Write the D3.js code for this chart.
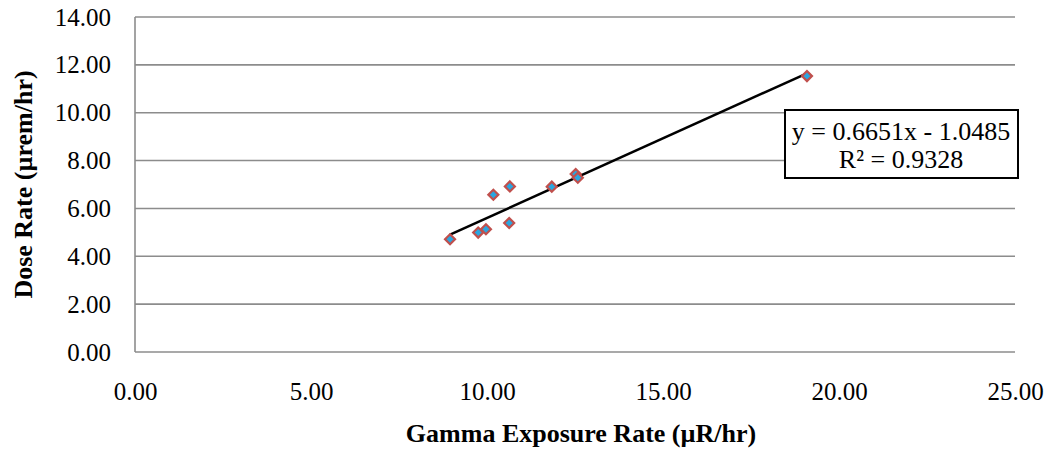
<!DOCTYPE html>
<html>
<head>
<meta charset="utf-8">
<script src="https://cdn.jsdelivr.net/npm/d3@7"></script>
<style>
  body { margin: 0; background: #fff; }
  svg { display: block; font-family: "Liberation Serif", "Times New Roman", serif; }
</style>
</head>
<body>
<div id="chart"></div>
<script>
// Gamma exposure rate (µR/hr) vs dose rate (µrem/hr)
const gammaRate = [8.95, 9.75, 9.97, 10.18, 10.65, 10.63, 11.84, 12.52, 12.58, 19.09];
const doseRate  = [4.71, 4.99, 5.13, 6.57, 6.92, 5.39, 6.91, 7.44, 7.28, 11.53];
const xTicks = [0, 5, 10, 15, 20, 25];
const yTicks = [0, 2, 4, 6, 8, 10, 12, 14];
const slope = 0.6651, intercept = -1.0485;
const eqLines = ["y = 0.6651x - 1.0485", "R² = 0.9328"];

const W = 1047, H = 458;
const margin = { top: 17, right: 32, bottom: 106, left: 135 };
const width = W - margin.left - margin.right;
const height = H - margin.top - margin.bottom;

const svg = d3.select("#chart").append("svg")
    .attr("width", W).attr("height", H);
const g = svg.append("g")
    .attr("transform", `translate(${margin.left},${margin.top})`);

const x = d3.scaleLinear().domain([0, 25]).range([0, width]);
const y = d3.scaleLinear().domain([0, 14]).range([height, 0]);

// gridlines
g.append("g").selectAll("line").data(yTicks).join("line")
    .attr("x1", 0).attr("x2", width)
    .attr("y1", d => y(d)).attr("y2", d => y(d))
    .attr("stroke", "#8c8c8c").attr("stroke-width", 1.6);

// left axis line
g.append("line")
    .attr("x1", 0).attr("x2", 0).attr("y1", 0).attr("y2", height)
    .attr("stroke", "#8c8c8c").attr("stroke-width", 1.6);

// tick labels
const yAxis = d3.axisLeft(y).tickValues(yTicks).tickFormat(d3.format(".2f")).tickSize(0).tickPadding(24);
const ya = g.append("g").call(yAxis);
ya.select(".domain").remove();
ya.selectAll("text").attr("font-size", 25).attr("font-family", "Liberation Serif").attr("fill", "#000");

const xAxis = d3.axisBottom(x).tickValues(xTicks).tickFormat(d3.format(".2f")).tickSize(0).tickPadding(30);
const xa = g.append("g").attr("transform", `translate(0,${height})`).call(xAxis);
xa.select(".domain").remove();
xa.selectAll("text").attr("font-size", 25).attr("font-family", "Liberation Serif").attr("fill", "#000");

// trendline
const xMin = d3.min(gammaRate), xMax = d3.max(gammaRate);
g.append("line")
    .attr("x1", x(xMin)).attr("y1", y(slope * xMin + intercept))
    .attr("x2", x(xMax)).attr("y2", y(slope * xMax + intercept))
    .attr("stroke", "#000").attr("stroke-width", 2.5);

// markers
const diamond = d3.symbol().type(d3.symbolDiamond2).size(64);
g.append("g").selectAll("path").data(gammaRate).join("path")
    .attr("d", diamond)
    .attr("transform", (d, i) => `translate(${x(d)},${y(doseRate[i])})`)
    .attr("fill", "#2aa6e0")
    .attr("stroke", "#c0504d").attr("stroke-width", 2.2);

// equation box
const box = svg.append("g");
box.append("rect")
    .attr("x", 785).attr("y", 110).attr("width", 233).attr("height", 68)
    .attr("fill", "#fff").attr("stroke", "#000").attr("stroke-width", 2);
box.selectAll("text").data(eqLines).join("text")
    .attr("x", 901).attr("y", (d, i) => 140 + i * 28)
    .attr("text-anchor", "middle")
    .attr("font-size", 26)
    .text(d => d);

// axis titles
svg.append("text")
    .attr("x", 581).attr("y", 442)
    .attr("text-anchor", "middle")
    .attr("font-size", 26).attr("font-weight", "bold")
    .text("Gamma Exposure Rate (µR/hr)");

svg.append("text")
    .attr("transform", `translate(32,${margin.top + height / 2}) rotate(-90)`)
    .attr("text-anchor", "middle")
    .attr("font-size", 26).attr("font-weight", "bold")
    .text("Dose Rate (µrem/hr)");
</script>
</body>
</html>
